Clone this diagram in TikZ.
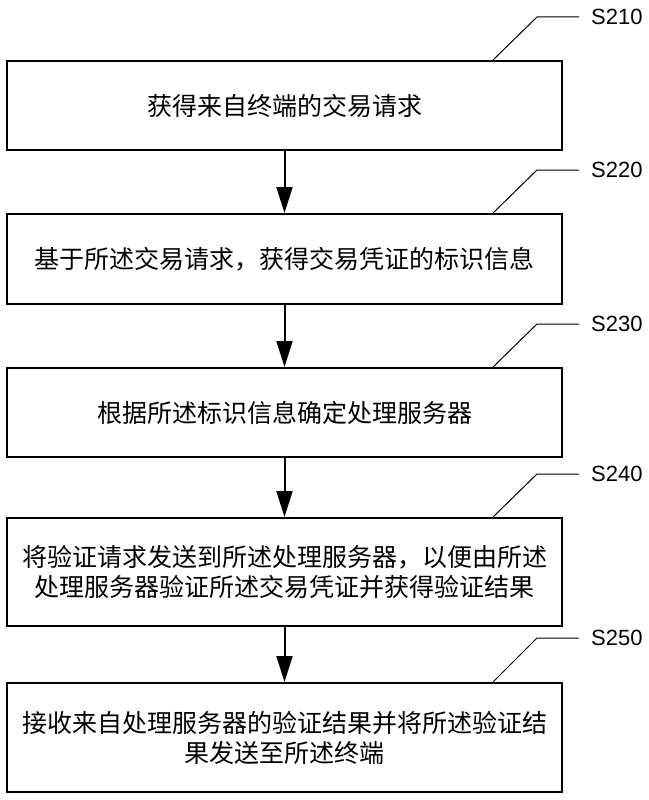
\documentclass[tikz,border=0pt]{standalone}
\usepackage{fontspec}
\setmainfont{Liberation Sans}
\newfontfamily\cjk{Noto Sans CJK SC}
\usetikzlibrary{arrows.meta,calc}
\begin{document}
\begin{tikzpicture}[x=1pt,y=-1pt,
  stepbox/.style={draw=black,line width=2pt,minimum width=555pt,inner sep=0pt,
     font=\cjk\fontsize{25pt}{30pt}\selectfont,align=center},
  flow/.style={line width=2pt,-{Triangle[length=26pt,width=16pt]}},
  leader/.style={line width=1pt},
  steplabel/.style={anchor=west,inner sep=0pt,inner xsep=12pt,font=\fontsize{22pt}{24pt}\selectfont}]
\useasboundingbox (0,0) rectangle (648,800);
% boxes
\node[stepbox,minimum height=89pt] (b1) at (284.5,105.5) {获得来自终端的交易请求};
\node[stepbox,minimum height=90pt] (b2) at (284.5,259) {基于所述交易请求，获得交易凭证的标识信息};
\node[stepbox,minimum height=89pt] (b3) at (284.5,412.5) {根据所述标识信息确定处理服务器};
\node[stepbox,minimum height=108pt] (b4) at (284.5,572) {将验证请求发送到所述处理服务器，以便由所述\\处理服务器验证所述交易凭证并获得验证结果};
\node[stepbox,minimum height=109pt] (b5) at (284.5,737.5) {接收来自处理服务器的验证结果并将所述验证结\\果发送至所述终端};
% arrows
\draw[flow] (b1.south) -- (b2.north);
\draw[flow] (b2.south) -- (b3.north);
\draw[flow] (b3.south) -- (b4.north);
\draw[flow] (b4.south) -- (b5.north);
% labels and leaders
\foreach \i/\y/\t in {1/17/S210,2/170/S220,3/324/S230,4/474/S240,5/638/S250}{
  \node[steplabel] (l\i) at (579,\y) {\t};
  \coordinate (k\i) at (537,\y);
  \coordinate (d\i) at ($(b\i.north) + (208.5,0)$);
  \draw[leader] (d\i) -- (k\i) -- (l\i.west);
}
\end{tikzpicture}
\end{document}
